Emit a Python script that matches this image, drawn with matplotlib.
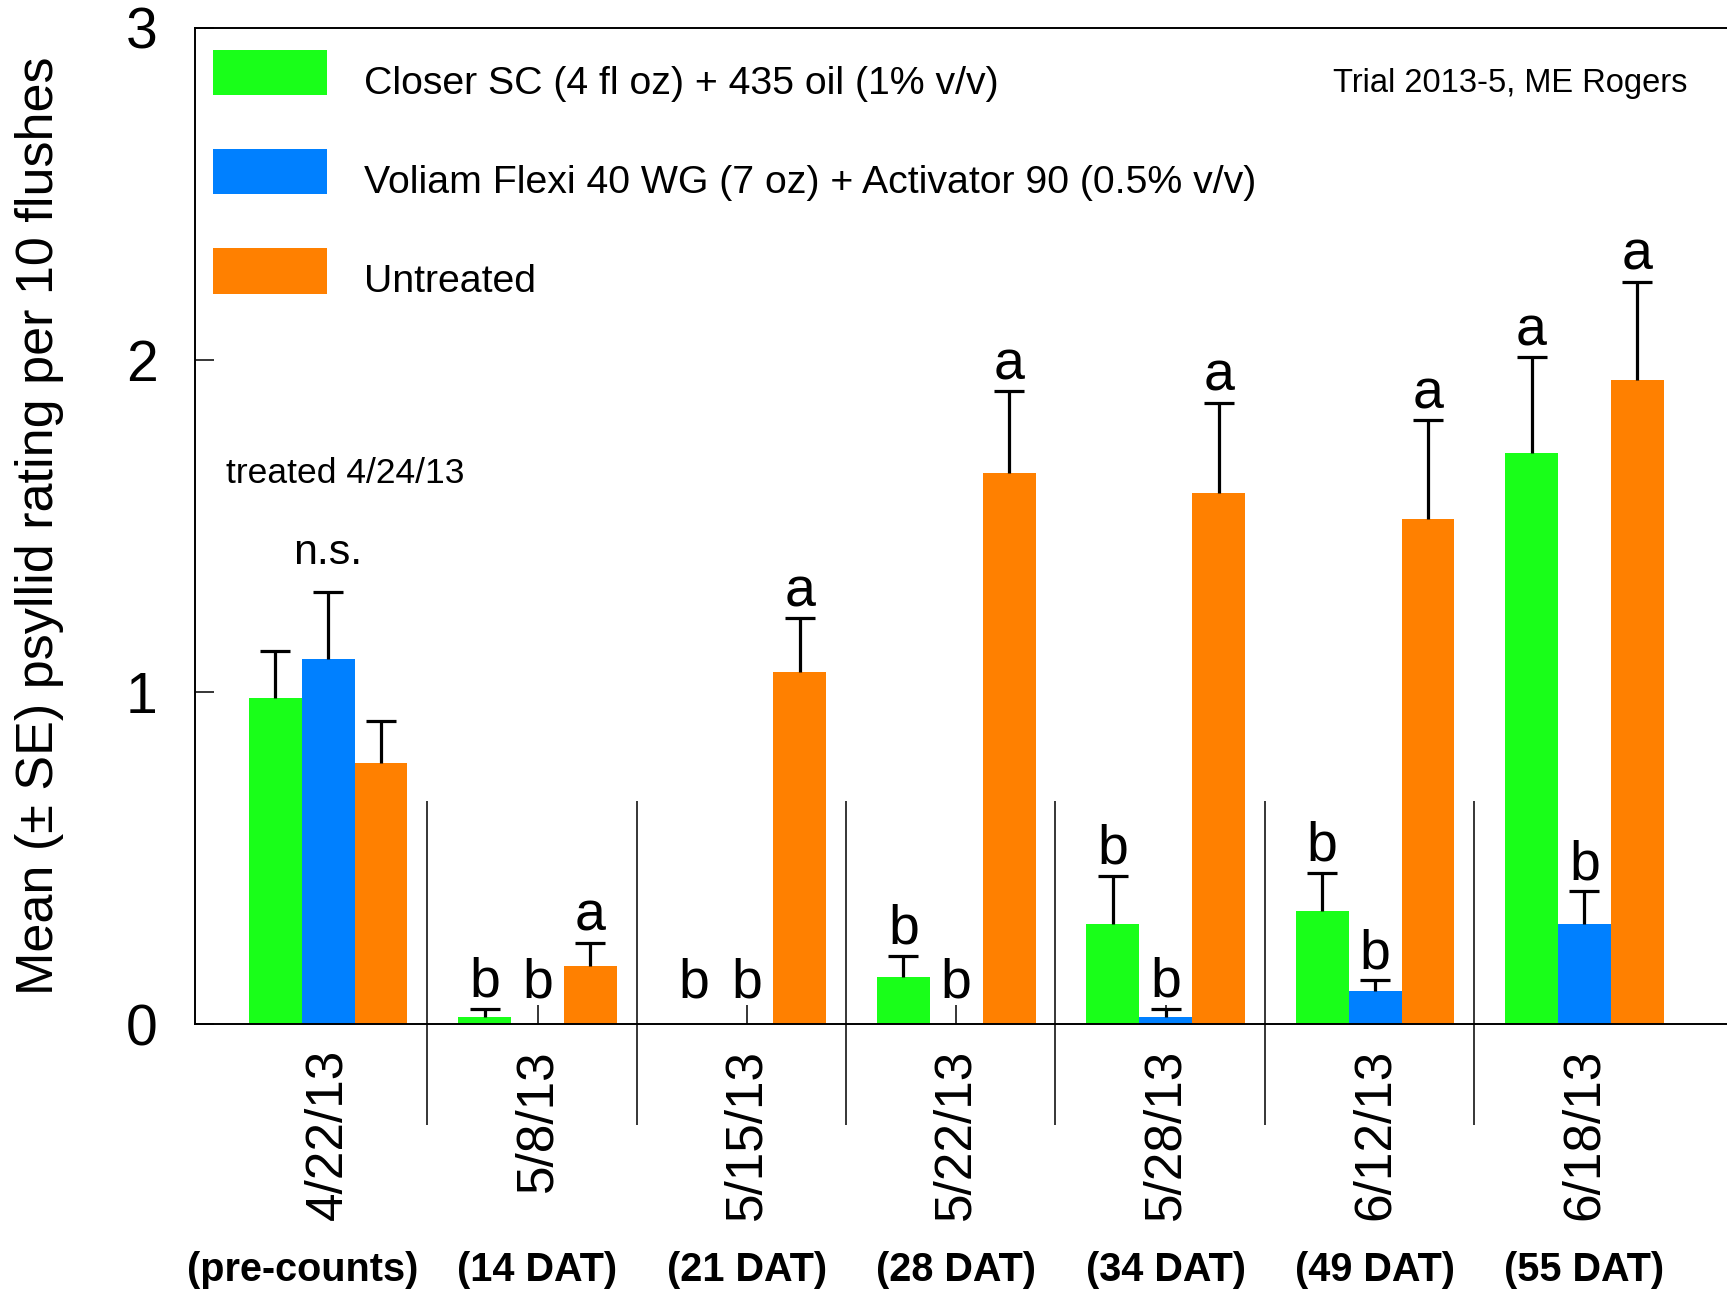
import numpy as np
import matplotlib
matplotlib.use("Agg")
import matplotlib.pyplot as plt
import matplotlib.patches as mpatches
from matplotlib.container import BarContainer
from matplotlib.legend_handler import HandlerPatch, update_from_first_child

# ---------------- data ----------------
dates = ["4/22/13", "5/8/13", "5/15/13", "5/22/13", "5/28/13", "6/12/13", "6/18/13"]
periods = ["(pre-counts)", "(14 DAT)", "(21 DAT)", "(28 DAT)", "(34 DAT)", "(49 DAT)", "(55 DAT)"]
series_names = ["Closer SC (4 fl oz) + 435 oil (1% v/v)",
                "Voliam Flexi 40 WG (7 oz) + Activator 90 (0.5% v/v)",
                "Untreated"]
closer_mean = [0.98, 0.02, 0.0, 0.14, 0.30, 0.34, 1.72]
closer_se = [0.143, 0.026, 0.0, 0.066, 0.146, 0.116, 0.288]
voliam_mean = [1.10, 0.0, 0.0, 0.0, 0.02, 0.10, 0.30]
voliam_se = [0.202, 0.0, 0.0, 0.0, 0.026, 0.032, 0.099]
untreated_mean = [0.785, 0.175, 1.06, 1.66, 1.60, 1.52, 1.94]
untreated_se = [0.126, 0.07, 0.162, 0.245, 0.271, 0.298, 0.295]
closer_letters = ["", "b", "b", "b", "b", "b", "a"]
voliam_letters = ["n.s.", "b", "b", "b", "b", "b", "b"]
untreated_letters = ["", "a", "a", "a", "a", "a", "a"]
yticks = [0, 1, 2, 3]
note_text = "treated 4/24/13"
credit_text = "Trial 2013-5, ME Rogers"
ylabel_text = "Mean (\u00b1 SE) psyllid rating per 10 flushes"

colors = ["#19FF19", "#0080FF", "#FF8000"]

plt.rcParams["font.family"] = ["Liberation Sans", "DejaVu Sans"]

W, H = 1727, 1292
fig = plt.figure(figsize=(W / 100, H / 100), dpi=100)
ax_left, ax_right = 195, 1731
ax_top, ax_bottom = 27.5, 1024
ax = fig.add_axes([ax_left / W, 1 - ax_bottom / H, (ax_right - ax_left) / W, (ax_bottom - ax_top) / H])

x = np.arange(len(dates))
bw = 0.2526
means = [closer_mean, voliam_mean, untreated_mean]
ses = [closer_se, voliam_se, untreated_se]
letters = [closer_letters, voliam_letters, untreated_letters]

for k in range(3):
    xs = x + (k - 1) * bw
    m = np.array(means[k], dtype=float)
    s = np.array(ses[k], dtype=float)
    ax.bar(xs, m, width=bw, color=colors[k], edgecolor="none", label=series_names[k], zorder=1)
    mask = s > 0
    eb = ax.errorbar(xs[mask], m[mask], yerr=[np.zeros(mask.sum()), s[mask]], fmt="none",
                     ecolor="black", elinewidth=2.3, capsize=10.5, capthick=2.3, zorder=2)
    eb[1][0].set_visible(False)  # hide lower caps
    for i in range(len(dates)):
        lab = letters[k][i]
        if not lab:
            continue
        top = m[i] + s[i]
        if top == 0:
            top = 0.045
        fs = 31 if lab == "n.s." else 40
        off = 13 if lab == "n.s." else 0
        ax.annotate(lab, xy=(xs[i], top), xytext=(0, off), textcoords="offset points",
                    ha="center", va="bottom", fontsize=fs)

# group separators
ax.vlines(x[:-1] + 0.473, -0.305, 0.672, colors="black", linewidth=1.1, clip_on=False, zorder=3)

ax.set_xlim(-0.636, 6.7)
ax.set_ylim(0, 3)
ax.set_axisbelow(True)

ax.set_xticks(x)
ax.set_xticklabels(dates, rotation=90, fontsize=37)
ax.tick_params(axis="x", direction="in", length=14, width=1.1, pad=18)
ax.set_yticks(yticks)
ax.set_yticklabels([str(t) for t in yticks], fontsize=41)
ax.tick_params(axis="y", direction="in", length=14, width=1.1, pad=27)

for i, p in enumerate(periods):
    dx = -18 if i == 0 else 0
    ax.annotate(p, xy=(x[i], 0), xytext=(dx, -177), textcoords="offset points",
                ha="center", va="center", fontsize=28.5, fontweight="bold")

for sp in ["left", "top", "bottom"]:
    ax.spines[sp].set_linewidth(1.4)
ax.spines["right"].set_visible(False)

ax.set_ylabel(ylabel_text, fontsize=37.5)
ax.yaxis.set_label_coords(-0.0853, 0.5)

ax.text(0.0201, 0.5525, note_text, transform=ax.transAxes, fontsize=25.5, ha="left", va="center")
ax.text(0.9717, 0.944, credit_text, transform=ax.transAxes, fontsize=23.5, ha="right", va="center")


def raised_patch(legend, orig_handle, xdescent, ydescent, width, height, fontsize):
    return mpatches.Rectangle((-xdescent, -ydescent + 6.3), width, height)


leg = ax.legend(loc="upper left", bbox_to_anchor=(0.0115, 0.969), frameon=False, fontsize=28.3,
                handlelength=2.92, handleheight=1.41, labelspacing=1.36, handletextpad=0.92,
                borderpad=0, borderaxespad=0,
                handler_map={BarContainer: HandlerPatch(patch_func=raised_patch,
                                                        update_func=update_from_first_child)})

fig.savefig("out.png", dpi=100)
